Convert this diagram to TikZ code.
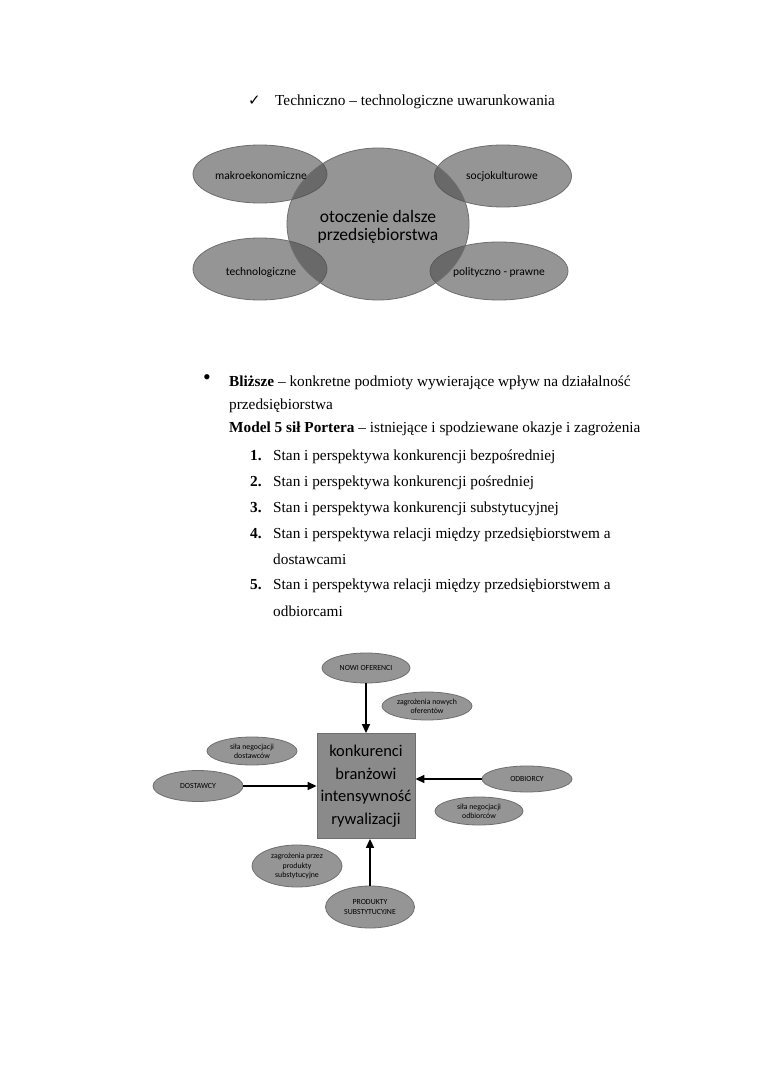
\documentclass[tikz,border=0pt]{standalone}
\usepackage{fontspec}
\setmainfont{Liberation Serif}
\newfontfamily\carfont{Carlito}
\newfontfamily\dvsfont{DejaVu Sans}
\usetikzlibrary{shapes.geometric,arrows.meta}
\definecolor{ovfill}{RGB}{74,74,74}
\definecolor{ovline}{RGB}{110,110,110}
\definecolor{boxfill}{RGB}{138,138,138}
\tikzset{
  oval/.style={ellipse, draw=ovline, line width=0.8pt, fill=ovfill, fill opacity=0.58, text opacity=1, inner sep=0pt},
  ovtext/.style={font=\carfont\fontsize{11.5}{13}\selectfont, text=black},
  small/.style={oval, font=\carfont\fontsize{7.8}{9.3}\selectfont, align=center, text=black},
  body/.style={anchor=base west, font=\fontsize{15.3}{18}\selectfont, inner sep=0pt},
  arr/.style={-{Triangle[length=9pt,width=8pt]}, line width=1.5pt, black},
  porterbox/.style={draw=ovline, line width=0.8pt, fill=boxfill, minimum width=98pt, minimum height=105pt, align=center, font=\carfont\fontsize{16.5}{22.5}\selectfont, inner sep=0pt}
}
\begin{document}
\begin{tikzpicture}[x=1pt,y=-1pt]
\useasboundingbox (0,0) rectangle (760,1075);
\fill[white] (0,0) rectangle (760,1075);
% header
\node[body, font=\dvsfont\fontsize{15}{17}\selectfont] (chk) at (248,106) {✓};
\node[body] (hdr) at (275,106) {Techniczno – technologiczne uwarunkowania};
% environment diagram
\node[oval, minimum width=134pt, minimum height=58pt] (mak) at (260,174) {};
\node[oval, minimum width=137pt, minimum height=62pt] (soc) at (503,176) {};
\node[oval, minimum width=134pt, minimum height=62pt] (tec) at (260,269) {};
\node[oval, minimum width=138pt, minimum height=58pt] (pol) at (499,271) {};
\node[oval, minimum width=182pt, minimum height=152pt] (oto) at (378,224) {};
\node[font=\carfont\fontsize{17.5}{18.5}\selectfont, align=center] (otot) at (378,227) {otoczenie dalsze\\przedsiębiorstwa};
\node[ovtext] (makt) at (261,176) {makroekonomiczne};
\node[ovtext] (soct) at (502,176) {socjokulturowe};
\node[ovtext] (tect) at (261,272) {technologiczne};
\node[ovtext] (polt) at (499,272) {polityczno - prawne};
% text block
\node[body, font=\fontsize{22}{24}\selectfont] (bul) at (203,384) {•};
\node[body] (l1) at (229,386) {\textbf{Bliższe} – konkretne podmioty wywierające wpływ na działalność};
\node[body] (l2) at (229,409) {przedsiębiorstwa};
\node[body] (l3) at (229,432) {\textbf{Model 5 sił Portera} – istniejące i spodziewane okazje i zagrożenia};
\node[body] (n1) at (250,460) {\textbf{1.}};
\node[body] (t1) at (273,460) {Stan i perspektywa konkurencji bezpośredniej};
\node[body] (n2) at (250,486) {\textbf{2.}};
\node[body] (t2) at (273,486) {Stan i perspektywa konkurencji pośredniej};
\node[body] (n3) at (250,512) {\textbf{3.}};
\node[body] (t3) at (273,512) {Stan i perspektywa konkurencji substytucyjnej};
\node[body] (n4) at (250,538) {\textbf{4.}};
\node[body] (t4) at (273,538) {Stan i perspektywa relacji między przedsiębiorstwem a};
\node[body] (t4b) at (273,564) {dostawcami};
\node[body] (n5) at (250,589) {\textbf{5.}};
\node[body] (t5) at (273,589) {Stan i perspektywa relacji między przedsiębiorstwem a};
\node[body] (t5b) at (273,616) {odbiorcami};
% Porter diagram
\node[porterbox] (box) at (366,786) {konkurenci\\branżowi\\intensywność\\rywalizacji};
\node[small, minimum width=88pt, minimum height=30pt] (now) at (366,668) {NOWI OFERENCI};
\node[small, minimum width=90pt, minimum height=28pt] (zno) at (427,706) {zagrożenia nowych\\oferentów};
\node[small, minimum width=90pt, minimum height=28pt] (sid) at (252,751) {siła negocjacji\\dostawców};
\node[small, minimum width=90pt, minimum height=31pt] (dos) at (198,786) {DOSTAWCY};
\node[small, minimum width=90pt, minimum height=26pt] (odb) at (527,779) {ODBIORCY};
\node[small, minimum width=88pt, minimum height=28pt] (sio) at (479,811) {siła negocjacji\\odbiorców};
\node[small, minimum width=90pt, minimum height=42pt] (zps) at (297,866) {zagrożenia przez\\produkty\\substytucyjne};
\node[small, minimum width=89pt, minimum height=42pt] (pro) at (370,907) {PRODUKTY\\SUBSTYTUCYJNE};
\draw[arr] (now.south) -- (now.south |- box.north);
\draw[arr] (dos.east) -- (dos.east -| box.west);
\draw[arr] (odb.west) -- (odb.west -| box.east);
\draw[arr] (pro.north) -- (pro.north |- box.south);
\end{tikzpicture}
\end{document}
